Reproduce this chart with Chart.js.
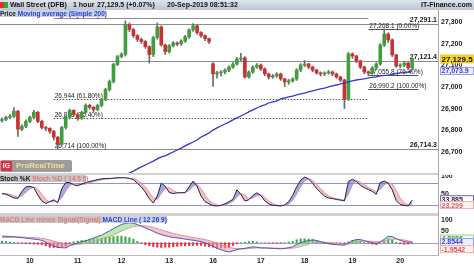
<!DOCTYPE html>
<html><head><meta charset="utf-8">
<script src="https://cdn.jsdelivr.net/npm/chart.js@4.4.1/dist/chart.umd.min.js"></script>
<style>
html,body{margin:0;padding:0;background:#fff}
body{width:474px;height:266px;overflow:hidden;position:relative;font-family:"Liberation Sans",Arial,sans-serif}
.a{position:absolute}
canvas{display:block}
#title{left:0;top:0;width:474px;height:10px;background:linear-gradient(#dfe5ec,#bcc7d2);font-size:7px;font-weight:bold;color:#111;line-height:10px;white-space:nowrap}
#title span{position:absolute;top:0}
.leg{font-size:6.5px;line-height:7px;white-space:nowrap;font-weight:bold}
</style></head>
<body>
<div class="a" id="pw" style="left:0;top:10px;width:474px;height:163px"><canvas id="cp" width="474" height="163"></canvas></div>
<div class="a" style="left:0;top:173px;width:438px;height:2px;background:#d2d2d2"></div>
<div class="a" id="sw" style="left:0;top:175px;width:474px;height:38px"><canvas id="cs" width="474" height="38"></canvas></div>
<div class="a" style="left:0;top:213px;width:438px;height:3px;background:#d2d2d2"></div>
<div class="a" id="mw" style="left:0;top:216px;width:474px;height:50px"><canvas id="cm" width="474" height="50"></canvas></div>
<div class="a" style="left:438px;top:10px;width:1px;height:245px;background:#a8a8a8"></div>

<div class="a" id="title">
  <span style="left:0;top:2px;width:4px;height:6px;background:#d33"></span><span style="left:4px;top:2px;width:4px;height:6px;background:#3a3"></span>
  <span style="left:10px">Wall Street (DFB)</span>
  <span style="left:73px">1 hour</span>
  <span style="left:97px">27,129.5 (+0.07%)</span>
  <span style="left:167px">20-Sep-2019 08:51:32</span>
  <span style="left:421px">IT-Finance.com</span>
</div>
<div class="a leg" style="left:0;top:10px;height:7px;width:105px;background:#c9d3e6"><span style="color:#222">Price</span> <span style="color:#2b3fd0">Moving average (Simple 200)</span></div>
<div class="a" style="left:0;top:160px;width:72px;height:12px;background:#9c9c9c;border-radius:2px">
  <div class="a" style="left:1px;top:1px;width:11px;height:10px;background:#d8343a;color:#fff;font-size:7px;font-weight:bold;line-height:10px;text-align:center">IG</div>
  <div class="a" style="left:16px;top:0;font-size:8px;font-weight:bold;color:#efe08a;line-height:12px">ProRealTime</div>
</div>
<div class="a leg" style="left:0;top:175px;height:7px;width:86px;background:#c8c8c8"><span style="color:#111">Stoch %K</span> <span style="color:#e07878">Stoch %D ( 14 5 5)</span></div>
<div class="a leg" style="left:0;top:216px;height:7px;width:158px;background:#c8c8c8"><span style="color:#e07878">MACD Line minus Signal(Signal)</span> <span style="color:#2b3fd0;background:#c9d3e6">MACD Line ( 12 26 9)</span></div>

<script>
// ---------- DATA ----------
const slotCount = 110; // hourly-pair slots across the x axis
const dayLabels = ['10','11','12','13','16','17','18','19','20'];
const dayLabelSlots = [7,19,30,42,53,65,76,88,100];
const priceTicks = [26700,26800,26900,27000,27100,27200,27300];

const opens = [26845,26850,26860,26865,26888,26805,26818,26841,26860,26883,
 26841,26813,26809,26795,26768,26735,26813,26860,26892,26873,
 26855,26883,26915,26906,26896,26915,26942,26988,27025,27104,
 27140,27150,27288,27265,27237,27219,27210,27186,27150,27228,
 27277,27194,27163,27190,27203,27198,27212,27231,27263,27282,
 27251,27237,27223,27107,27060,27065,27069,27078,27092,27106,
 27129,27134,27046,27069,27092,27101,27083,27060,27046,27051,
 27060,27037,27023,27028,27037,27078,27101,27106,27092,27078,
 27065,27060,27065,27069,27060,27046,27032,26944,27152,27143,
 27120,27092,27069,27065,27088,27106,27194,27244,27217,27148,
 27097,27101,27110,27088];
const highs = [26858,26866,26872,26905,26892,26825,26848,26866,26892,26888,
 26846,26818,26812,26800,26772,26818,26866,26898,26895,26878,
 26888,26922,26920,26910,26920,26948,26994,27032,27110,27146,
 27158,27305,27295,27270,27242,27225,27214,27190,27234,27295,
 27282,27198,27196,27210,27208,27218,27238,27268,27292,27285,
 27256,27240,27226,27112,27072,27076,27084,27098,27112,27136,
 27155,27140,27074,27098,27108,27106,27088,27064,27058,27066,
 27064,27040,27035,27042,27084,27108,27122,27110,27096,27082,
 27070,27070,27076,27074,27064,27050,27036,27160,27158,27146,
 27124,27096,27074,27094,27112,27200,27268,27250,27222,27150,
 27108,27116,27114,27132];
const lows = [26838,26844,26853,26858,26772,26798,26812,26835,26852,26835,
 26806,26798,26785,26755,26714,26728,26806,26852,26866,26846,
 26850,26876,26898,26885,26890,26908,26936,26980,27018,27098,
 27134,27142,27255,27228,27210,27200,27178,27110,27140,27220,
 27188,27150,27156,27184,27190,27192,27205,27224,27256,27244,
 27228,27214,27200,27002,27040,27050,27060,27070,27086,27100,
 27120,27040,27040,27062,27086,27076,27052,27036,27040,27044,
 27030,27002,27012,27022,27030,27070,27094,27084,27070,27058,
 27050,27052,27058,27052,27040,27024,26900,26938,27132,27112,
 27084,27060,27052,27058,27080,27100,27186,27205,27140,27090,
 27088,27094,27080,27078];
const closes = [26850,26860,26865,26888,26805,26818,26841,26860,26883,26841,
 26813,26809,26795,26768,26735,26813,26860,26892,26873,26855,
 26883,26915,26906,26896,26915,26942,26988,27025,27104,27140,
 27150,27288,27265,27237,27219,27210,27186,27150,27228,27277,
 27194,27163,27190,27203,27198,27212,27231,27263,27282,27251,
 27237,27223,27210,27060,27065,27069,27078,27092,27106,27129,
 27134,27046,27069,27092,27101,27083,27060,27046,27051,27060,
 27037,27023,27028,27037,27078,27101,27106,27092,27078,27065,
 27060,27065,27069,27060,27046,27032,26944,27152,27143,27120,
 27092,27069,27065,27088,27106,27194,27244,27217,27148,27097,
 27101,27110,27088,27129.5];
const sma200 = [null,null,null,null,null,null,null,null,null,null,
 null,null,null,null,null,null,null,null,null,null,
 null,null,null,null,null,null,null,null,null,null,
 26580,26594,26603,26612,26622,26631,26640,26649,26658,26668,
 26677,26682,26691,26700,26709,26718,26728,26737,26746,26755,
 26769,26778,26788,26801,26811,26820,26829,26838,26848,26857,
 26866,26875,26885,26894,26903,26912,26917,26926,26931,26935,
 26945,26949,26954,26958,26963,26968,26972,26977,26982,26986,
 26991,26995,27000,27005,27009,27014,27018,27023,27028,27032,
 27035,27037,27042,27044,27046,27051,27053,27055,27058,27062,
 27065,27067,27069,27073.9];

const hLevels = [27291.1, 27121.4, 26714.3];
const hLevelLabels = ['27,291.1','27,121.4','26,714.3'];
const fibALevels = [27316, 26944, 26856, 26714];
const fibALabels = ['27,316 (0.00%)','26,944 (61.80%)','26,856 (76.40%)','26,714 (100.00%)'];
const fibBLevels = [27268.1, 27055.8, 26990.2];
const fibBLabels = ['27,268.1 (0.00%)','27,055.8 (76.40%)','26,990.2 (100.00%)'];

const stochK = [52,50,45,40,39,58,70,72,68,48,32,25,30,35,27,65,82,82,76,73,
 78,82,85,87,90,92,93,93,94,95,95,95,93,90,80,70,56,38,26,45,
 80,72,55,52,54,54,55,70,86,72,45,30,24,19,18,20,24,30,36,62,
 50,32,35,47,54,47,32,24,20,19,18,21,30,47,70,88,97,92,80,66,
 55,45,40,38,36,34,32,85,91,85,75,68,63,58,50,82,86,80,62,33,
 22,20,18,33.885];
const stochD = [50,52,50,46,42,45,55,65,70,64,50,36,29,30,31,40,58,74,80,77,
 76,78,81,84,87,89,91,92,93,94,95,95,94,93,88,80,70,55,40,36,
 52,66,68,60,55,54,54,60,72,76,66,48,33,25,21,19,21,25,30,42,
 52,48,38,40,46,49,42,32,25,21,19,19,23,33,50,70,86,93,88,78,
 65,55,46,41,38,36,34,50,75,87,83,76,69,63,57,63,75,83,78,60,
 40,27,21,23.299];
const stochLevels = [20, 80];
const stochTicks = [50, 100];

const macdLine = [29,28,27,26,24,22,20,18,16,14,10,2,-8,-14,-20,-22,-23,-14,-6,-1,
 4,8,14,21,27,33,43,52,62,72,80,85,88,86,80,73,65,58,50,42,
 36,31,26,23,21,19,16,13,11,8,5,-1,-8,-16,-25,-31,-37,-41,-36,-30,
 -27,-25,-21,-18,-20,-23,-23,-24,-25,-26,-27,-25,-22,-18,-8,0,5,9,12,10,
 5,0,-4,-7,-9,-10,-11,-2,8,14,14,9,4,0,-5,4,15,28,27,18,
 10,5,2,2.8544];
const signalLine = [22,23,24,25,25,25,24,23,22,21,19,16,12,7,2,-3,-8,-10,-10,-8,
 -6,-3,0,4,9,14,20,27,35,43,51,59,66,71,74,75,74,71,67,62,
 57,51,46,41,37,33,30,26,23,20,17,14,9,4,-2,-8,-14,-20,-24,-26,
 -27,-27,-26,-24,-23,-23,-23,-23,-24,-24,-25,-25,-25,-24,-21,-17,-12,-7,-2,1,
 2,2,1,-1,-3,-5,-7,-6,-3,1,5,7,7,6,4,4,6,11,15,16,
 15,12,8,4.8086];
const macdHist = [7,5,3,1,-1,-3,-4,-5,-6,-7,-9,-14,-20,-21,-22,-19,-15,-4,4,7,
 10,11,14,17,18,19,23,25,27,29,29,26,22,15,6,-2,-9,-13,-17,-20,
 -21,-20,-20,-18,-16,-14,-14,-13,-12,-12,-12,-15,-17,-20,-23,-23,-23,-21,-12,-4,
 0,2,5,6,3,0,0,-1,-1,-2,-2,0,3,6,13,17,17,16,14,9,
 3,-2,-5,-6,-6,-5,-4,4,11,13,9,2,-3,-6,-9,0,9,17,12,2,
 -5,-7,-6,-1.9542];
const macdTicks = [50, 100];

// ---------- helpers ----------
const slotLabels = Array.from({length: slotCount}, (_, i) => String(i));
const FONT = '"Liberation Sans", Arial, sans-serif';
const tickFont = {family: FONT, size: 7, weight: 'bold'};

const refLines = {
  id: 'refLines',
  beforeDatasetsDraw(chart, args, opts) {
    const {ctx, chartArea: a, scales: {x, y}} = chart;
    (opts.lines || []).forEach(l => {
      const py = Math.round(y.getPixelForValue(l.value)) + 0.5;
      const x0 = l.from != null ? x.getPixelForValue(l.from) : a.left;
      const x1 = l.to != null ? x.getPixelForValue(l.to) : a.right;
      ctx.save();
      ctx.strokeStyle = l.color; ctx.lineWidth = 1; ctx.setLineDash(l.dash || []);
      ctx.beginPath(); ctx.moveTo(x0, py); ctx.lineTo(x1, py); ctx.stroke();
      if (l.text) {
        ctx.font = l.font || ('6.5px ' + FONT);
        ctx.fillStyle = l.textColor || '#222';
        ctx.textAlign = l.align || 'left';
        ctx.textBaseline = 'bottom';
        ctx.fillText(l.text, l.align === 'right' ? x1 - 1 : x0 + 1, py - 0.5);
      }
      ctx.restore();
    });
  }
};
const valueBoxes = {
  id: 'valueBoxes',
  afterDraw(chart, args, opts) {
    const {ctx, chartArea: a, scales: {y}} = chart;
    (opts.boxes || []).forEach(b => {
      const py = y.getPixelForValue(b.value) + (b.dy || 0);
      const h = b.h || 8, x0 = a.right + 2, w = 34;
      ctx.save();
      ctx.fillStyle = b.bg; ctx.fillRect(x0, py - h / 2, w, h);
      if (b.border) { ctx.strokeStyle = b.border; ctx.lineWidth = 1; ctx.strokeRect(x0 + 0.5, py - h / 2 + 0.5, w - 1, h - 1); }
      ctx.font = b.font; ctx.fillStyle = b.fg; ctx.textBaseline = 'middle'; ctx.textAlign = 'left';
      ctx.fillText(b.text, x0 + 1.5, py + 0.5);
      ctx.restore();
    });
  }
};
Chart.register(refLines, valueBoxes);

function yAxis(min, max, tickVals, fmt) {
  return {
    position: 'right', min, max,
    grid: {display: false, drawTicks: false},
    border: {display: true, color: '#a8a8a8'},
    ticks: {font: tickFont, color: '#222', padding: 3, callback: fmt},
    afterBuildTicks: s => { s.ticks = tickVals.map(v => ({value: v})); },
    afterFit: s => { s.width = 36; s.paddingTop = 0; s.paddingBottom = 0; }
  };
}
const hiddenX = {display: false, offset: true, grid: {display: false}};
const baseOpts = {animation: false, responsive: false, maintainAspectRatio: false, layout: {padding: 0},
  plugins: {legend: {display: false}, tooltip: {enabled: false}}};

// ---------- PRICE ----------
const bodyData = opens.map((o, i) => [o, closes[i]]);
const wickData = lows.map((l, i) => [l, highs[i]]);
const bodyColors = opens.map((o, i) => closes[i] >= o ? '#3f9f3f' : '#c83232');
const priceLines = [];
hLevels.forEach((v, i) => priceLines.push({value: v, color: '#8c8c8c', text: hLevelLabels[i], align: 'right', font: 'bold 7px ' + FONT, textColor: '#222'}));
fibALevels.forEach((v, i) => priceLines.push({value: v, from: 13, to: 92, color: i === 0 || i === 3 ? '#8c8c8c' : '#555', dash: i === 0 || i === 3 ? [] : [1.5, 1.5], text: fibALabels[i]}));
fibBLevels.forEach((v, i) => priceLines.push({value: v, from: 92, to: 104.6, color: '#555', text: fibBLabels[i]}));

new Chart(document.getElementById('cp'), {
  type: 'bar',
  data: {labels: slotLabels, datasets: [
    {type: 'line', data: sma200, borderColor: '#3636d6', borderWidth: 1.3, pointRadius: 0, order: 0},
    {data: bodyData, backgroundColor: bodyColors, barThickness: 3, grouped: false, order: 1},
    {data: wickData, backgroundColor: '#6a6a6a', barThickness: 1, grouped: false, order: 2}
  ]},
  options: {...baseOpts,
    plugins: {...baseOpts.plugins,
      refLines: {lines: priceLines},
      valueBoxes: {boxes: [
        {value: 27129.5, text: '27,129.5', bg: '#f3d22e', fg: '#111', font: 'bold 8px ' + FONT, h: 9},
        {value: 27073.9, text: '27,073.9', bg: '#eef0ff', border: '#9a9ae8', fg: '#3a3ad0', font: 'bold 7px ' + FONT, h: 8}
      ]}},
    scales: {x: hiddenX, y: yAxis(26603, 27355, priceTicks, v => v.toLocaleString('en-US'))}
  }
});

// ---------- STOCH ----------
new Chart(document.getElementById('cs'), {
  type: 'line',
  data: {labels: slotLabels, datasets: [
    {data: stochK, borderColor: '#1f1f4c', borderWidth: 1, pointRadius: 0,
     fill: {target: 1, above: 'rgba(112,112,205,0.6)', below: 'rgba(240,150,150,0.6)'}},
    {data: stochD, borderColor: '#eb9a9a', borderWidth: 1, pointRadius: 0}
  ]},
  options: {...baseOpts,
    plugins: {...baseOpts.plugins,
      refLines: {lines: stochLevels.map(v => ({value: v, color: '#8f8fe0'}))},
      valueBoxes: {boxes: [
        {value: 33.885, text: '33.885', bg: '#ffffff', border: '#6a6ab0', fg: '#1f1f4c', font: 'bold 7px ' + FONT, dy: -1},
        {value: 23.299, text: '23.299', bg: '#fff2f2', border: '#f0b0b0', fg: '#e06060', font: 'bold 7px ' + FONT, dy: 1}
      ]}},
    scales: {x: hiddenX, y: yAxis(-1, 102.5, stochTicks, v => String(v))}
  }
});

// ---------- MACD ----------
new Chart(document.getElementById('cm'), {
  type: 'bar',
  data: {labels: slotLabels, datasets: [
    {type: 'line', data: macdLine, borderColor: '#5252b8', borderWidth: 1, pointRadius: 0, order: 0,
     fill: {target: 1, above: 'rgba(130,215,120,0.55)', below: 'rgba(240,150,170,0.55)'}},
    {type: 'line', data: signalLine, borderColor: '#e58aa0', borderWidth: 1, pointRadius: 0, order: 1},
    {data: macdHist, backgroundColor: macdHist.map(v => v >= 0 ? '#3cae3c' : '#e03a3a'), barThickness: 1.5, order: 2}
  ]},
  options: {...baseOpts,
    plugins: {...baseOpts.plugins,
      refLines: {lines: [{value: 0, color: '#9a9ad8'}]},
      valueBoxes: {boxes: [
        {value: 4.8086, text: '4.8086', bg: '#f4fff4', border: '#9ad09a', fg: '#3a9a3a', font: 'bold 7px ' + FONT, dy: -3},
        {value: 2.8544, text: '2.8544', bg: '#eef0ff', border: '#9a9ae8', fg: '#3a3ad0', font: 'bold 7px ' + FONT, dy: 0},
        {value: -1.9542, text: '-1.9542', bg: '#fff2f2', border: '#f0b0b0', fg: '#e05050', font: 'bold 7px ' + FONT, dy: 6}
      ]}},
    scales: {
      x: {offset: true, grid: {display: false, drawTicks: false}, border: {display: true, color: '#b8b8b8'},
          ticks: {font: tickFont, color: '#222', padding: 2, autoSkip: false, maxRotation: 0,
                  callback: (v) => dayLabels[dayLabelSlots.indexOf(v)]},
          afterBuildTicks: s => { s.ticks = dayLabelSlots.map(v => ({value: v})); },
          afterFit: s => { s.height = 11; s.paddingLeft = 0; s.paddingRight = 0; }},
      y: yAxis(-54.2, 117.6, macdTicks, v => String(v))
    }
  }
});
</script>
</body></html>
